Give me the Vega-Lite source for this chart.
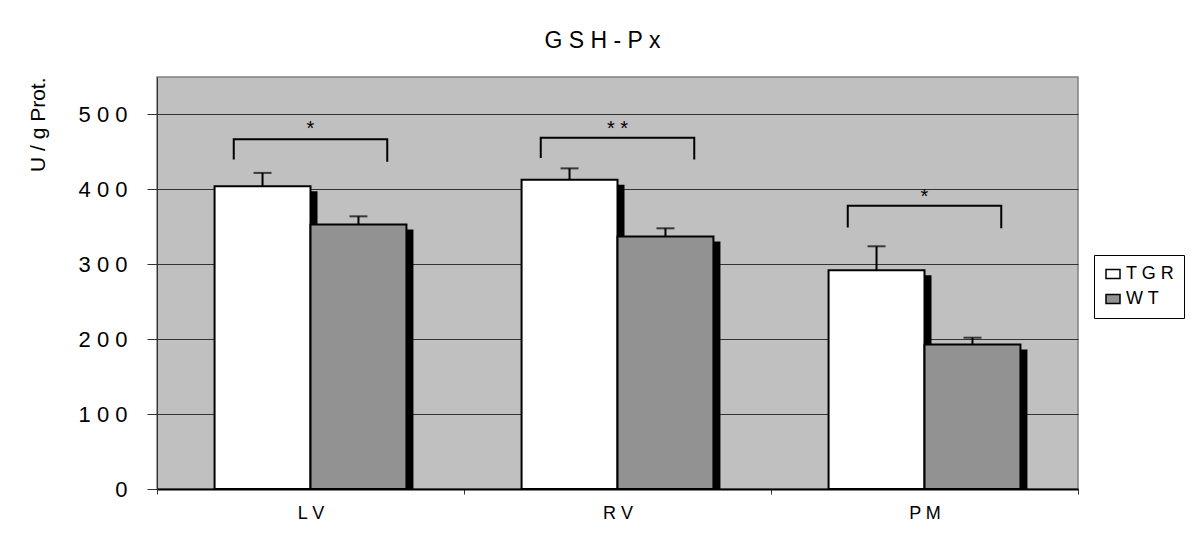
{
  "$schema": "https://vega.github.io/schema/vega-lite/v6.json",
  "width": 921,
  "height": 412,
  "autosize": "none",
  "padding": {"left": 157, "top": 77, "right": 119, "bottom": 49},
  "background": "white",
  "title": {"text": "G S H - P x", "fontSize": 23, "font": "Liberation Sans", "fontWeight": "normal", "color": "black", "offset": 24, "dx": -15},
  "config": {
    "font": "Liberation Sans",
    "view": {"fill": "#c0c0c0", "stroke": "#808080", "strokeWidth": 1.5}
  },
  "datasets": {
    "bars": [
      {"cat": "LV", "grp": "TGR", "mean": 404, "upper": 422},
      {"cat": "LV", "grp": "WT", "mean": 353, "upper": 364},
      {"cat": "RV", "grp": "TGR", "mean": 413, "upper": 428},
      {"cat": "RV", "grp": "WT", "mean": 337, "upper": 348},
      {"cat": "PM", "grp": "TGR", "mean": 292, "upper": 324},
      {"cat": "PM", "grp": "WT", "mean": 193, "upper": 202}
    ],
    "brackets": [
      {"cat": "LV", "side": "L", "val": 440, "ord": 1},
      {"cat": "LV", "side": "L", "val": 467, "ord": 2},
      {"cat": "LV", "side": "R", "val": 467, "ord": 3},
      {"cat": "LV", "side": "R", "val": 437, "ord": 4},
      {"cat": "RV", "side": "L", "val": 442, "ord": 1},
      {"cat": "RV", "side": "L", "val": 469, "ord": 2},
      {"cat": "RV", "side": "R", "val": 469, "ord": 3},
      {"cat": "RV", "side": "R", "val": 440, "ord": 4},
      {"cat": "PM", "side": "L", "val": 349, "ord": 1},
      {"cat": "PM", "side": "L", "val": 378, "ord": 2},
      {"cat": "PM", "side": "R", "val": 378, "ord": 3},
      {"cat": "PM", "side": "R", "val": 348, "ord": 4}
    ],
    "stars": [
      {"cat": "LV", "val": 472, "label": "*"},
      {"cat": "RV", "val": 472, "label": "* *"},
      {"cat": "PM", "val": 382, "label": "*"}
    ]
  },
  "layer": [
    {
      "data": {"name": "bars"},
      "mark": {"type": "bar", "fill": "black", "yOffset": 5, "y2Offset": -5},
      "encoding": {
        "x": {
          "field": "cat", "type": "nominal", "sort": ["LV", "RV", "PM"],
          "scale": {"paddingInner": 0, "paddingOuter": 0},
          "axis": {
            "title": null, "labelFontSize": 18, "labelColor": "black", "labelAngle": 0,
            "labelExpr": "join(split(datum.label, ''), ' ')",
            "tickBand": "extent", "tickSize": 5, "tickColor": "#333333",
            "domainColor": "black", "domainWidth": 2, "labelPadding": 10, "grid": false
          }
        },
        "xOffset": {"field": "grp", "type": "nominal", "sort": ["TGR", "WT"], "scale": {"range": [7, 314], "paddingInner": 0, "paddingOuter": 0.6}},
        "y": {
          "field": "mean", "type": "quantitative", "title": "U / g Prot.", "stack": null,
          "scale": {"domain": [0, 550], "nice": false},
          "axis": {
            "values": [0, 100, 200, 300, 400, 500], "labelFontSize": 22, "labelColor": "black",
            "labelExpr": "join(split(datum.label, ''), ' ')", "labelPadding": 20,
            "tickSize": 10, "tickColor": "#333333", "domainColor": "#333333",
            "grid": true, "gridColor": "#333333", "gridWidth": 1,
            "titleFontSize": 21, "titleFontWeight": "normal", "titleColor": "black",
            "titleAnchor": "end", "titlePadding": 30
          }
        }
      }
    },
    {
      "data": {"name": "bars"},
      "mark": {"type": "bar", "stroke": "black", "strokeWidth": 2},
      "encoding": {
        "x": {"field": "cat", "type": "nominal", "sort": ["LV", "RV", "PM"]},
        "xOffset": {"field": "grp", "type": "nominal", "sort": ["TGR", "WT"], "scale": {"paddingInner": 0, "paddingOuter": 0.6}},
        "y": {"field": "mean", "type": "quantitative", "title": "U / g Prot.", "stack": null},
        "color": {
          "field": "grp", "type": "nominal",
          "scale": {"domain": ["TGR", "WT"], "range": ["white", "#929292"]},
          "legend": {
            "title": null, "orient": "none", "legendX": 937, "legendY": 178,
            "fillColor": "white", "strokeColor": "black", "padding": 10,
            "symbolType": "M-1,-0.65H1V0.65H-1Z", "symbolSize": 196,
            "symbolStrokeColor": "black", "symbolStrokeWidth": 1.5,
            "labelFontSize": 18, "labelColor": "black", "labelOffset": 4, "rowPadding": 7,
            "labelExpr": "join(split(datum.label, ''), ' ')"
          }
        }
      }
    },
    {
      "data": {"name": "bars"},
      "mark": {"type": "rule", "color": "black", "strokeWidth": 2},
      "encoding": {
        "x": {"field": "cat", "type": "nominal", "sort": ["LV", "RV", "PM"]},
        "xOffset": {"field": "grp", "type": "nominal", "sort": ["TGR", "WT"], "scale": {"paddingInner": 0, "paddingOuter": 0.6}},
        "y": {"field": "mean", "type": "quantitative", "title": "U / g Prot."},
        "y2": {"field": "upper"}
      }
    },
    {
      "data": {"name": "bars"},
      "mark": {"type": "tick", "color": "black", "thickness": 2, "size": 18, "orient": "horizontal"},
      "encoding": {
        "x": {"field": "cat", "type": "nominal", "sort": ["LV", "RV", "PM"]},
        "xOffset": {"field": "grp", "type": "nominal", "sort": ["TGR", "WT"], "scale": {"paddingInner": 0, "paddingOuter": 0.6}},
        "y": {"field": "upper", "type": "quantitative", "title": "U / g Prot."}
      }
    },
    {
      "data": {"name": "brackets"},
      "mark": {"type": "line", "color": "black", "strokeWidth": 2},
      "encoding": {
        "x": {"field": "cat", "type": "nominal", "sort": ["LV", "RV", "PM"]},
        "xOffset": {"field": "side", "type": "nominal", "sort": ["L", "R"], "scale": {"paddingInner": 0, "paddingOuter": 0.5}},
        "y": {"field": "val", "type": "quantitative", "title": "U / g Prot."},
        "order": {"field": "ord", "type": "quantitative"},
        "detail": {"field": "cat", "type": "nominal"}
      }
    },
    {
      "data": {"name": "stars"},
      "mark": {"type": "text", "color": "black", "fontSize": 20, "baseline": "alphabetic", "align": "center"},
      "encoding": {
        "x": {"field": "cat", "type": "nominal", "sort": ["LV", "RV", "PM"]},
        "y": {"field": "val", "type": "quantitative", "title": "U / g Prot."},
        "text": {"field": "label", "type": "nominal"}
      }
    }
  ],
  "resolve": {"scale": {"xOffset": "independent"}}
}
